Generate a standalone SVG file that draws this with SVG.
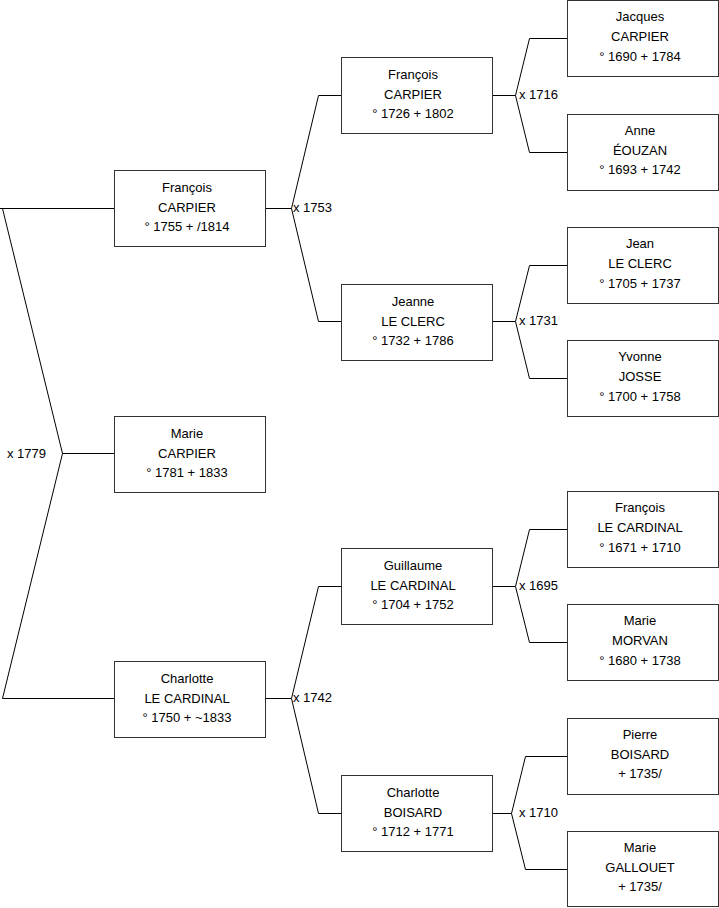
<svg xmlns="http://www.w3.org/2000/svg" width="719" height="908" viewBox="0 0 719 908">
<style>
.box{fill:#fff;stroke:#333;stroke-width:1}
.t{font-family:"Liberation Sans",Arial,sans-serif;font-size:13px;fill:#000;text-anchor:middle}
.l{font-family:"Liberation Sans",Arial,sans-serif;font-size:13px;fill:#000}
.c{fill:none;stroke:#000;stroke-width:1}
</style>
<rect width="719" height="908" fill="#fff"/>
<g id="connectors">
<path class="c" d="M0,208.5 H114 M2.5,208.5 L62.5,453.5 L2.5,698.5 M62.5,453.5 H114 M2.5,698.5 H114"/>
<path class="c" d="M265,208.5 H291.5 M318.5,95.5 L291.5,208.5 L318.5,321.5 M318.5,95.5 H341 M318.5,321.5 H341"/>
<path class="c" d="M265,698.5 H291.5 M318.5,586.5 L291.5,698.5 L318.5,813.5 M318.5,586.5 H341 M318.5,813.5 H341"/>
<path class="c" d="M492,95.5 H515.5 M529.5,38.5 L515.5,95.5 L529.5,152.5 M529.5,38.5 H567 M529.5,152.5 H567"/>
<path class="c" d="M492,321.5 H515.5 M529.5,265.5 L515.5,321.5 L529.5,378.5 M529.5,265.5 H567 M529.5,378.5 H567"/>
<path class="c" d="M492,586.5 H515.5 M529.5,529.5 L515.5,586.5 L529.5,642.5 M529.5,529.5 H567 M529.5,642.5 H567"/>
<path class="c" d="M492,813.5 H511.5 M525.5,756.5 L511.5,813.5 L525.5,869.5 M525.5,756.5 H567 M525.5,869.5 H567"/>
<text class="l" x="7" y="458">x 1779</text>
<text class="l" x="293" y="212">x 1753</text>
<text class="l" x="293" y="702">x 1742</text>
<text class="l" x="519" y="99">x 1716</text>
<text class="l" x="519" y="325">x 1731</text>
<text class="l" x="519" y="590">x 1695</text>
<text class="l" x="519" y="817">x 1710</text>
</g>
<g id="n1"><rect class="box" x="114.5" y="170.5" width="151" height="76"/><text class="t" x="187" y="192">François</text><text class="t" x="187" y="212">CARPIER</text><text class="t" x="187" y="231">° 1755 + /1814</text></g>
<g id="n2"><rect class="box" x="114.5" y="416.5" width="151" height="76"/><text class="t" x="187" y="438">Marie</text><text class="t" x="187" y="458">CARPIER</text><text class="t" x="187" y="477">° 1781 + 1833</text></g>
<g id="n3"><rect class="box" x="114.5" y="661.5" width="151" height="76"/><text class="t" x="187" y="683">Charlotte</text><text class="t" x="187" y="703">LE CARDINAL</text><text class="t" x="187" y="722">° 1750 + ~1833</text></g>
<g id="n4"><rect class="box" x="341.5" y="57.5" width="151" height="76"/><text class="t" x="413" y="79">François</text><text class="t" x="413" y="99">CARPIER</text><text class="t" x="413" y="118">° 1726 + 1802</text></g>
<g id="n5"><rect class="box" x="341.5" y="284.5" width="151" height="76"/><text class="t" x="413" y="306">Jeanne</text><text class="t" x="413" y="326">LE CLERC</text><text class="t" x="413" y="345">° 1732 + 1786</text></g>
<g id="n6"><rect class="box" x="341.5" y="548.5" width="151" height="76"/><text class="t" x="413" y="570">Guillaume</text><text class="t" x="413" y="590">LE CARDINAL</text><text class="t" x="413" y="609">° 1704 + 1752</text></g>
<g id="n7"><rect class="box" x="341.5" y="775.5" width="151" height="76"/><text class="t" x="413" y="797">Charlotte</text><text class="t" x="413" y="817">BOISARD</text><text class="t" x="413" y="836">° 1712 + 1771</text></g>
<g id="n8"><rect class="box" x="567.5" y="0.5" width="151" height="76"/><text class="t" x="640" y="21">Jacques</text><text class="t" x="640" y="41">CARPIER</text><text class="t" x="640" y="61">° 1690 + 1784</text></g>
<g id="n9"><rect class="box" x="567.5" y="114.5" width="151" height="76"/><text class="t" x="640" y="135">Anne</text><text class="t" x="640" y="155">ÉOUZAN</text><text class="t" x="640" y="174">° 1693 + 1742</text></g>
<g id="n10"><rect class="box" x="567.5" y="227.5" width="151" height="76"/><text class="t" x="640" y="248">Jean</text><text class="t" x="640" y="268">LE CLERC</text><text class="t" x="640" y="288">° 1705 + 1737</text></g>
<g id="n11"><rect class="box" x="567.5" y="340.5" width="151" height="76"/><text class="t" x="640" y="361">Yvonne</text><text class="t" x="640" y="381">JOSSE</text><text class="t" x="640" y="401">° 1700 + 1758</text></g>
<g id="n12"><rect class="box" x="567.5" y="491.5" width="151" height="76"/><text class="t" x="640" y="512">François</text><text class="t" x="640" y="532">LE CARDINAL</text><text class="t" x="640" y="552">° 1671 + 1710</text></g>
<g id="n13"><rect class="box" x="567.5" y="604.5" width="151" height="76"/><text class="t" x="640" y="625">Marie</text><text class="t" x="640" y="645">MORVAN</text><text class="t" x="640" y="665">° 1680 + 1738</text></g>
<g id="n14"><rect class="box" x="567.5" y="718.5" width="151" height="76"/><text class="t" x="640" y="739">Pierre</text><text class="t" x="640" y="759">BOISARD</text><text class="t" x="640" y="778">+ 1735/</text></g>
<g id="n15"><rect class="box" x="567.5" y="831.5" width="151" height="75"/><text class="t" x="640" y="852">Marie</text><text class="t" x="640" y="872">GALLOUET</text><text class="t" x="640" y="891">+ 1735/</text></g>
</svg>
